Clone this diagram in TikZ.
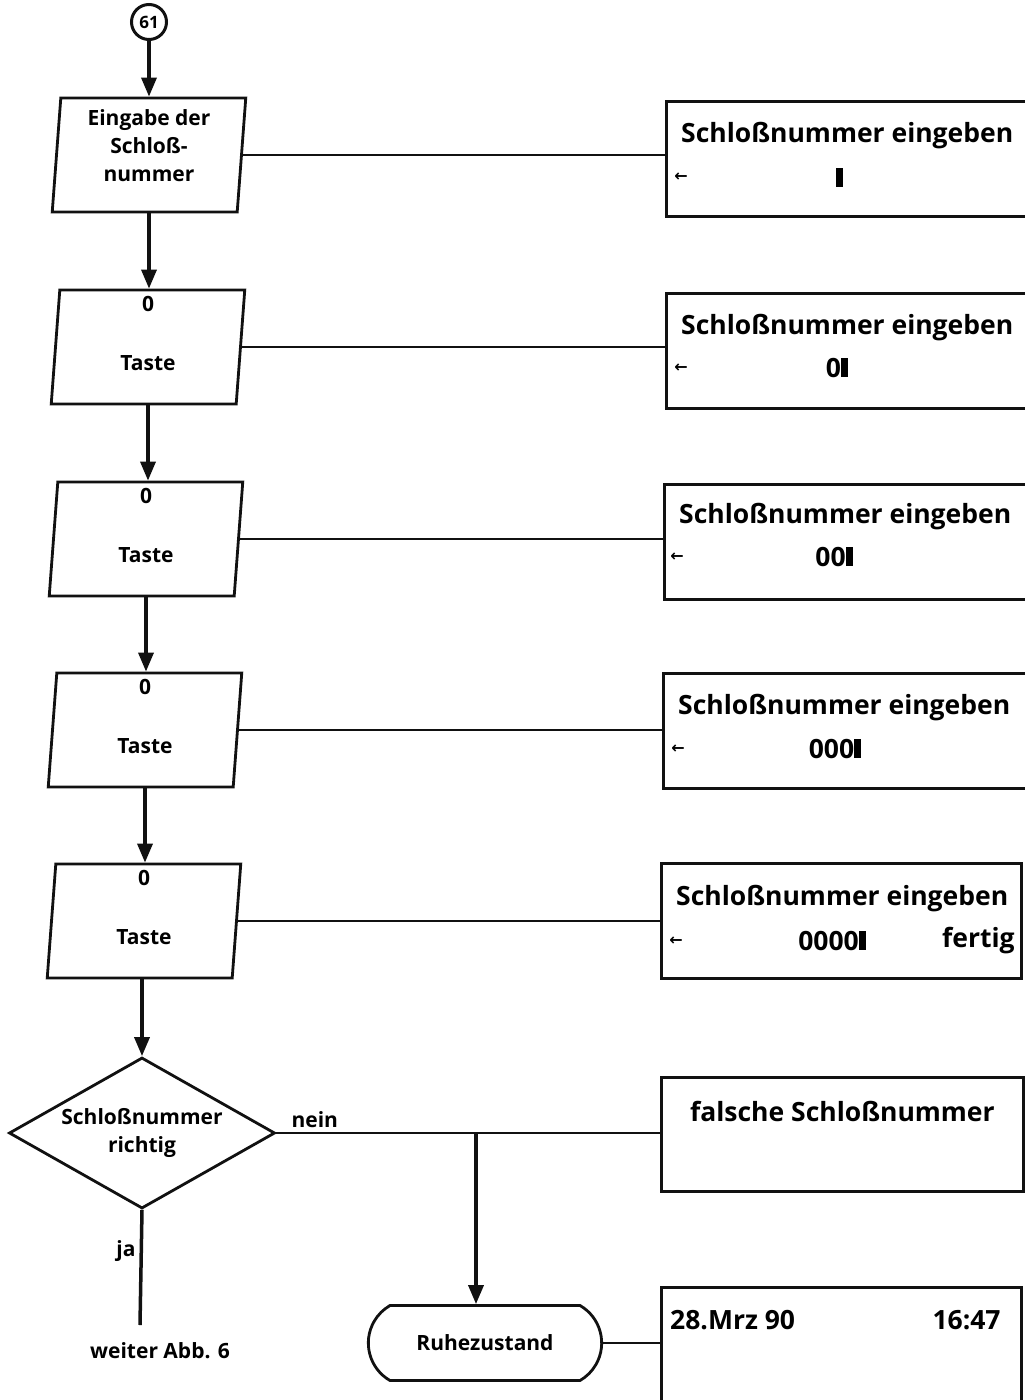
\documentclass[tikz,border=0pt]{standalone}
\usepackage{fontspec}
\setmainfont{Open Sans}
\newfontfamily\symfont{DejaVu Sans}
\usepackage{xcolor}
\definecolor{cInk}{HTML}{111111}
\usetikzlibrary{positioning,arrows.meta,shapes.geometric,shapes.misc}
\newcommand\flowfont{\bfseries\fontsize{21}{28}\selectfont}
\newcommand\dispfont{\bfseries\fontsize{26.5}{30}\selectfont}
\newcommand\cursorblk{\rule[0pt]{7pt}{19pt}}
\tikzset{
  node-conn/.style={draw=cInk,line width=3pt,circle,minimum size=35pt,
    inner sep=0pt,font=\bfseries\fontsize{17}{17}\selectfont},
  node-io/.style={draw=cInk,line width=2.8pt,trapezium,
    trapezium left angle=80,trapezium right angle=100,
    trapezium stretches=true,minimum width=194pt,minimum height=114pt,
    inner sep=0pt,align=center,font=\flowfont},
  node-disp/.style={draw=cInk,line width=2.8pt,rectangle,anchor=north west,
    minimum height=115pt,inner sep=0pt},
  node-dec/.style={draw=cInk,line width=2.8pt,diamond,shape aspect=1.76,
    minimum width=266pt,minimum height=151pt,inner sep=0pt,align=center,
    font=\flowfont},
  node-term/.style={draw=cInk,line width=2.8pt,rounded rectangle,
    rounded rectangle arc length=120,minimum width=240pt,minimum height=75pt,
    font=\flowfont},
  txt-flow/.style={font=\flowfont,inner sep=0pt,align=center},
  txt-disp/.style={font=\dispfont,inner sep=0pt},
  txt-sym/.style={font=\symfont\bfseries\fontsize{16}{16}\selectfont,inner sep=0pt},
  arrow/.style={-{Triangle[length=19pt,width=15pt]},line width=3.5pt,draw=cInk},
  flow/.style={line width=3.5pt,draw=cInk},
  link/.style={line width=2.4pt,draw=cInk},
}

\begin{document}
\begin{tikzpicture}[x=1pt,y=-1pt]
  \useasboundingbox (0,0) rectangle (1025,1400);
  \clip (0,0) rectangle (1025,1400);

  % Eingabe
  \node[node-conn] (c61) at (149,22) {61};
  \node[node-io] (in) at (149,155) {\phantom{Taste}};
  \node[txt-flow] (in-txt) at ([yshift=9pt]in.center) {Eingabe der\\Schloß-\\nummer};
  \node[node-disp,minimum width=380pt] (d1) at (665,100) {};
  \node[txt-disp,anchor=west] (d1-a) at ([xshift=16pt,yshift=-36pt]d1.north west) {Schloßnummer eingeben};
  \node[txt-sym] (d1-b) at ([xshift=16pt,yshift=-77pt]d1.north west) {←};
  \node[txt-disp] (d1-c) at ([xshift=174pt,yshift=-77pt]d1.north west) {\cursorblk};

  % Tasten
  \node[node-io] (k1) at (148,347) {\phantom{Taste}};
  \node[txt-flow,below=7pt of k1.north] (k1-a) {0};
  \node[txt-flow] (k1-b) at ([yshift=-16pt]k1.center) {Taste};
  \node[node-disp,minimum width=380pt] (d2) at (665,292) {};
  \node[txt-disp,anchor=west] (d2-a) at ([xshift=16pt,yshift=-36pt]d2.north west) {Schloßnummer eingeben};
  \node[txt-sym] (d2-b) at ([xshift=16pt,yshift=-76pt]d2.north west) {←};
  \node[txt-disp] (d2-c) at ([xshift=172pt,yshift=-76pt]d2.north west) {0\cursorblk};

  \node[node-io] (k2) at (146,539) {\phantom{Taste}};
  \node[txt-flow,below=7pt of k2.north] (k2-a) {0};
  \node[txt-flow] (k2-b) at ([yshift=-16pt]k2.center) {Taste};
  \node[node-disp,minimum width=380pt] (d3) at (663,483) {};
  \node[txt-disp,anchor=west] (d3-a) at ([xshift=16pt,yshift=-34pt]d3.north west) {Schloßnummer eingeben};
  \node[txt-sym] (d3-b) at ([xshift=14pt,yshift=-74pt]d3.north west) {←};
  \node[txt-disp] (d3-c) at ([xshift=171pt,yshift=-74pt]d3.north west) {00\cursorblk};

  \node[node-io] (k3) at (145,730) {\phantom{Taste}};
  \node[txt-flow,below=7pt of k3.north] (k3-a) {0};
  \node[txt-flow] (k3-b) at ([yshift=-16pt]k3.center) {Taste};
  \node[node-disp,minimum width=380pt] (d4) at (662,672) {};
  \node[txt-disp,anchor=west] (d4-a) at ([xshift=16pt,yshift=-36pt]d4.north west) {Schloßnummer eingeben};
  \node[txt-sym] (d4-b) at ([xshift=16pt,yshift=-77pt]d4.north west) {←};
  \node[txt-disp] (d4-c) at ([xshift=173pt,yshift=-77pt]d4.north west) {000\cursorblk};

  \node[node-io] (k4) at (144,921) {\phantom{Taste}};
  \node[txt-flow,below=7pt of k4.north] (k4-a) {0};
  \node[txt-flow] (k4-b) at ([yshift=-16pt]k4.center) {Taste};
  \node[node-disp,minimum width=360pt] (d5) at (660,862) {};
  \node[txt-disp,anchor=west] (d5-a) at ([xshift=16pt,yshift=-37pt]d5.north west) {Schloßnummer eingeben};
  \node[txt-sym] (d5-b) at ([xshift=16pt,yshift=-79pt]d5.north west) {←};
  \node[txt-disp] (d5-c) at ([xshift=172pt,yshift=-79pt]d5.north west) {0000\cursorblk};
  \node[txt-disp,anchor=east] (d5-d) at ([xshift=-8pt,yshift=-79pt]d5.north east) {fertig};

  % Abfrage
  \node[node-dec] (dec) at (142,1133) {Schloßnummer\\richtig};
  \node[node-disp,minimum width=362pt,minimum height=114pt] (d6) at (660,1076) {};
  \node[txt-disp] (d6-a) at ([yshift=-35pt]d6.north) {falsche Schloßnummer};
  \coordinate (jn) at (476,1133);
  \node[node-term] (term) at (485,1343) {Ruhezustand};
  \node[node-disp,minimum width=360pt,minimum height=140pt] (d7) at (660,1286) {};
  \node[txt-disp,anchor=west] (d7-a) at ([xshift=10pt,yshift=-34pt]d7.north west) {28.Mrz 90};
  \node[txt-disp,anchor=east] (d7-b) at ([xshift=-22pt,yshift=-34pt]d7.north east) {16:47};
  \coordinate (ja-end) at (140,1325);
  \node[txt-flow] (weiter) at (160,1351) {weiter Abb. 6};

  % Verbindungen
  \draw[arrow] (c61) -- (c61 |- in.north);
  \draw[arrow] (in.center |- in.south) -- (in.center |- k1.north);
  \draw[arrow] (k1.center |- k1.south) -- (k1.center |- k2.north);
  \draw[arrow] (k2.center |- k2.south) -- (k2.center |- k3.north);
  \draw[arrow] (k3.center |- k3.south) -- (k3.center |- k4.north);
  \draw[arrow] (dec.north |- k4.south) -- (dec.north);
  \draw[link] (in.east) -- (in.east -| d1.west);
  \draw[link] (k1.east) -- (k1.east -| d2.west);
  \draw[link] (k2.east) -- (k2.east -| d3.west);
  \draw[link] (k3.east) -- (k3.east -| d4.west);
  \draw[link] (k4.east) -- (k4.east -| d5.west);
  \draw[link] (dec.east) -- node[txt-flow,above=4pt,pos=0.1] {nein} (dec.east -| d6.west);
  \draw[arrow] (jn) -- (jn |- term.north);
  \draw[link] (term.east) -- (term.east -| d7.west);
  \draw[flow] (dec.south) -- node[txt-flow,left=4pt,pos=0.36] {ja} (ja-end);
\end{tikzpicture}
\end{document}
